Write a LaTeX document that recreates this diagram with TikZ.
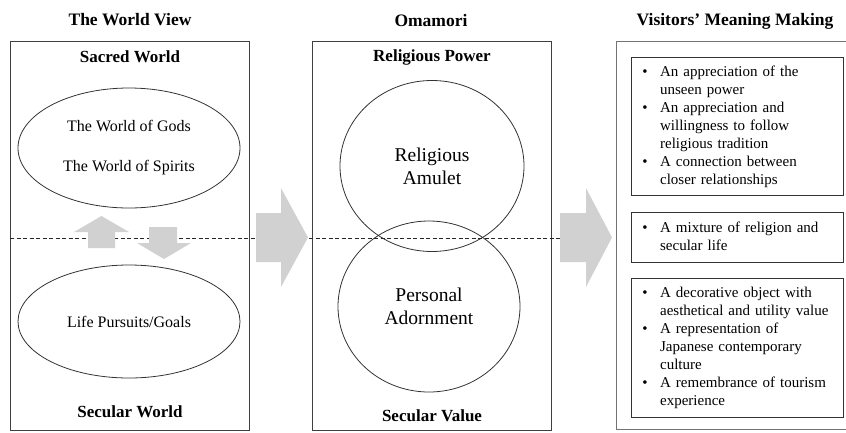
\documentclass[tikz,border=0pt]{standalone}
\usepackage{fontspec}
\setmainfont{Liberation Serif}
\usepackage{xcolor}
\usepackage{tikz}
\usetikzlibrary{shapes.geometric}

\begin{document}
\begin{tikzpicture}[x = 1pt, y = -1pt,
        frame/.style = {draw = black!75, line width = 0.9pt},
        oval/.style = {ellipse, draw = black!80, line width = 0.8pt, inner sep = 0pt, align = center},
        heading/.style = {font = \fontsize{17.5}{20}\selectfont\bfseries},
        pole/.style = {font = \fontsize{17}{20}\selectfont\bfseries},
        blockarrow/.style = {fill = black!18},
        divider/.style = {draw = black!85, line width = 0.8pt, dash pattern = on 4pt off 2.5pt},
        listbox/.style = {draw = black!80, line width = 0.8pt, anchor = north west, minimum width = 212pt,
            inner xsep = 11pt, inner ysep = 0pt, text width = 190pt, align = left,
            font = \fontsize{15}{18}\selectfont}]
        \useasboundingbox (0, 0) rectangle (846, 432);

        % the three columns
        \draw[frame] (10, 41) rectangle (249, 430);
        \draw[frame] (312, 41) rectangle (551, 430);
        \draw[draw = black!55, line width = 0.9pt] (850, 41) -- (616, 41) -- (616, 429) -- (850, 429);

        \node[heading] (viewtitle) at (130, 20) {The World View};
        \node[heading] (omamorititle) at (431, 21) {Omamori};
        \node[heading] (meaningtitle) at (735, 21) {Visitors’ Meaning Making};

        \node[pole] (sacred) at (130, 57) {Sacred World};
        \node[pole] (secular) at (130, 412) {Secular World};
        \node[pole] (power) at (432, 57) {Religious Power};
        \node[pole] (value) at (432, 416) {Secular Value};

        \node[oval, minimum width = 222pt, minimum height = 120pt, font = \fontsize{16}{19}\selectfont]
            (gods) at (129, 148) {The World of Gods\\[21pt]The World of Spirits};
        \node[oval, minimum width = 222pt, minimum height = 113pt, font = \fontsize{16}{19}\selectfont]
            (life) at (129, 321.5) {Life Pursuits/Goals};

        \node[oval, minimum width = 184pt, minimum height = 171pt, font = \fontsize{19.5}{23}\selectfont]
            (amulet) at (432, 166) {Religious\\Amulet};
        \node[oval, minimum width = 182pt, minimum height = 171pt, font = \fontsize{19.5}{23}\selectfont]
            (adorn) at (429, 306.5) {Personal\\Adornment};

        \coordinate (divleft) at (10, 238);
        \coordinate (divright) at (560, 238);
        \draw[divider] (divleft) -- (divright);

        \fill[blockarrow] (88, 248) -- (88, 232) -- (74, 232) -- (101.5, 216) -- (129, 232) -- (115, 232) -- (115, 248) -- cycle;
        \fill[blockarrow] (149, 227) -- (177, 227) -- (177, 243) -- (191, 243) -- (164, 259) -- (137, 243) -- (149, 243) -- cycle;

        \fill[blockarrow] (256, 213) -- (281, 213) -- (281, 188) -- (308, 237.5) -- (281, 287) -- (281, 262) -- (256, 262) -- cycle;
        \fill[blockarrow] (560, 213) -- (586, 213) -- (586, 188) -- (612, 237.5) -- (586, 287) -- (586, 262) -- (560, 262) -- cycle;

        \node[listbox, minimum height = 138pt] (unseen) at (631, 57) {%
            \begin{tabular}{@{}l@{\hspace{12.5pt}}l@{}}
                \textbullet & An appreciation of the\\
                            & unseen power\\
                \textbullet & An appreciation and\\
                            & willingness to follow\\
                            & religious tradition\\
                \textbullet & A connection between\\
                            & closer relationships
            \end{tabular}};
        \node[listbox, minimum height = 50pt] (mixture) at (631, 212) {%
            \begin{tabular}{@{}l@{\hspace{12.5pt}}l@{}}
                \textbullet & A mixture of religion and\\
                            & secular life
            \end{tabular}};
        \node[listbox, minimum height = 139pt] (decor) at (631, 278) {%
            \begin{tabular}{@{}l@{\hspace{12.5pt}}l@{}}
                \textbullet & A decorative object with\\
                            & aesthetical and utility value\\
                \textbullet & A representation of\\
                            & Japanese contemporary\\
                            & culture\\
                \textbullet & A remembrance of tourism\\
                            & experience
            \end{tabular}};
\end{tikzpicture}
\end{document}
